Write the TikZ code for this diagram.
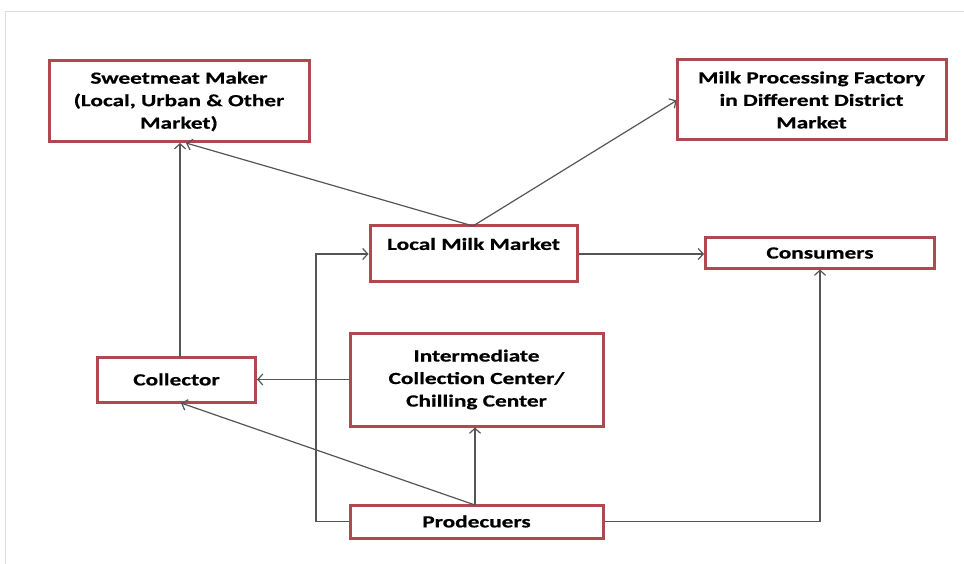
\documentclass[tikz,border=0pt]{standalone}
\usepackage{fontspec}
\setmainfont{Carlito}[FakeStretch=1.37,FakeBold=0.6]
\usetikzlibrary{arrows.meta}
\definecolor{boxred}{HTML}{B04850}
\definecolor{linegrey}{HTML}{555555}
\definecolor{framegrey}{HTML}{DDDDDD}
\tikzset{
  box/.style={draw=boxred, line width=3pt, fill=white, inner sep=0pt, align=center,
    font=\fontsize{17}{22.5}\selectfont\bfseries},
  lbl/.style={inner sep=0pt, align=center, font=\fontsize{17}{22.5}\selectfont\bfseries},
  conn/.style={draw=linegrey, line width=1.2pt},
  arr/.style={conn, -{Straight Barb[length=5pt,width=11pt,line width=1.2pt]}}
}
\begin{document}
\begin{tikzpicture}[x=1pt,y=-1pt]
\useasboundingbox (0,0) rectangle (964,564);
\draw[framegrey, line width=1pt] (5,564) -- (5,12) -- (964,12);

\node[box, minimum width=260pt, minimum height=81pt] (sweet) at (179,101.5)
  {Sweetmeat Maker\\(Local, Urban \& Other\\Market)};
\node[box, minimum width=269pt, minimum height=80pt] (mpf) at (811.5,100)
  {Milk Processing Factory\\in Different District\\Market};
\node[box, minimum width=207pt, minimum height=55pt] (lmm) at (473.5,253.5) {};
\node[lbl] (lmmtext) at (473.5,244) {Local Milk Market};
\node[box, minimum width=229pt, minimum height=30pt] (cons) at (820,253) {Consumers};
\node[box, minimum width=158pt, minimum height=45pt] (col) at (176.5,379.5) {Collector};
\node[box, minimum width=253pt, minimum height=93pt] (icc) at (476.5,379.5)
  {Intermediate\\Collection Center/\\Chilling Center};
\node[box, minimum width=253pt, minimum height=33pt] (prod) at (476.5,521.5) {Prodecuers};

\coordinate (lmmtop) at (473,226);
\coordinate (prodtop) at (475,505);
\coordinate (pleft) at (316,521.5);
\coordinate (pright) at (820,521.5);

\draw[arr] (180,357) -- (180,143);
\draw[arr] (lmmtop) -- (186,143);
\draw[arr] (lmmtop) -- (676.5,100.5);
\draw[arr] (lmm.east |- 0,254) -- (cons.west |- 0,254);
\draw[arr] (icc.west) -- (col.east);
\draw[arr] (prodtop) -- (prodtop |- icc.south);
\draw[arr] (prodtop) -- (181,403);
\draw[arr] (prod.west) -- (pleft) -- (pleft |- 0,254) -- (lmm.west |- 0,254);
\draw[arr] (prod.east) -- (pright) -- (pright |- cons.south);
\end{tikzpicture}
\end{document}
